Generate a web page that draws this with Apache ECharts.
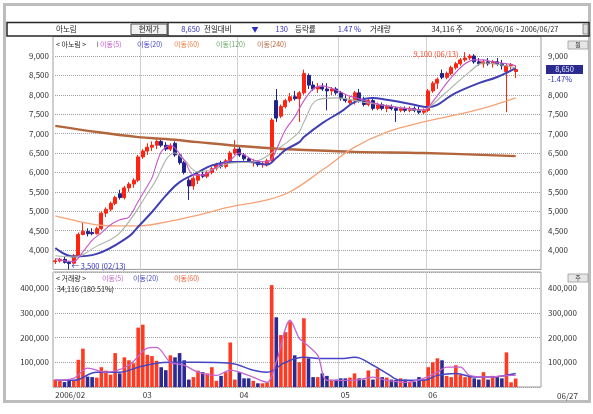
<!DOCTYPE html>
<html><head><meta charset="utf-8">
<script src="https://cdn.jsdelivr.net/npm/echarts/dist/echarts.min.js"></script>
<style>html,body{margin:0;padding:0;background:#fff}#c{width:593px;height:414px}</style>
</head><body><div id="c"></div>
<script>
const FONT = '"Noto Sans CJK KR","Noto Sans",sans-serif';
// ---- categories (trading days) ----
const febDays = [1,2,3,6,7,8,9,10,13,14,15,16,17,20,21,22,23,24,27];
const marDays = [2,3,6,7,8,9,10,13,14,15,16,17,20,21,22,23,24,27,28,29,30];
const aprDays = [3,4,5,6,7,10,11,12,13,14,17,18,19,20,21,24,25,26,27,28,29,30];
const mayDays = [2,3,4,8,9,10,11,12,15,16,17,18,19,22,23,24,25,26,29];
const junDays = [1,2,5,6,7,8,9,12,13,14,15,16,19,20,21,22,23,24,26,27];
const monthLabels = ['2006/02','03','04','05','06'];
const priceTicks = [4000,4500,5000,5500,6000,6500,7000,7500,8000,8500,9000];
const volTicks = [100000,200000,300000,400000];

// ---- OHLC ----
const opens = [3700,3720,3760,3680,3660,3850,4400,4480,4450,4420,4550,4950,5050,5200,5450,5350,5600,5700,5800,6400,
6550,6650,6700,6800,6700,6600,6750,6450,6250,5800,5650,5800,5950,5900,6000,6100,6200,6150,6300,6500,
6600,6450,6350,6250,6280,6200,6220,6300,7850,7450,7700,7850,7950,7900,8050,8500,8250,8150,8200,8150,
8100,8150,8050,7900,7800,7850,8050,7850,7750,7850,7650,7750,7650,7700,7650,7600,7650,7600,7650,7600,
7550,7600,8100,8300,8550,8450,8550,8700,8800,8900,8950,9000,8850,8800,8850,8800,8850,8800,8600,8750,8600];
const highs = [3780,3800,3820,3720,3900,4450,4700,4560,4560,4600,5000,5100,5250,5400,5550,5650,5750,5850,6450,6600,
6750,6800,6850,6850,6780,6750,6800,6500,6300,5850,5900,6000,6050,6050,6150,6250,6300,6350,6550,6830,
6700,6500,6400,6350,6300,6280,6350,7400,8150,7750,7900,8050,8100,8100,8650,8550,8350,8300,8300,8300,
8200,8200,8100,8000,7950,8100,8150,7950,7900,7900,7800,7800,7750,7750,7700,7700,7700,7700,7700,7700,
7650,8150,8350,8450,8650,8600,8750,8850,8950,9100,9050,9050,8950,8900,8950,8900,8950,8900,8800,8820,8750];
const lows = [3640,3680,3650,3500,3640,3840,4380,4350,4380,4400,4520,4850,5000,5150,5300,5300,5500,5600,5750,6350,
6450,6550,6600,6650,6550,6550,6400,6200,5950,5290,5550,5700,5850,5850,5950,6050,6100,6100,6250,6450,
6400,6300,6250,6150,6150,6120,6150,6280,7300,7400,7650,7800,7850,7300,8000,8150,8100,8050,8100,7600,
8000,8000,7850,7800,7750,7750,7800,7700,7700,7600,7600,7600,7550,7600,7300,7550,7550,7550,7550,7500,
7500,7550,8050,8150,8400,8400,8500,8650,8750,8850,8900,8800,8750,8700,8750,8700,8750,8650,7550,8650,8430];
const closes = [3720,3760,3680,3650,3850,4400,4480,4420,4420,4550,4950,5050,5200,5350,5350,5600,5700,5800,6400,6550,
6650,6700,6800,6700,6600,6700,6450,6250,6000,5650,5850,5950,5900,6000,6100,6200,6150,6300,6500,6600,
6450,6350,6300,6280,6200,6220,6300,7350,7400,7700,7850,7950,7900,8050,8550,8250,8150,8200,8150,8100,
8150,8050,7900,7850,7850,8050,7850,7750,7850,7650,7750,7650,7700,7650,7600,7650,7600,7650,7600,7550,
7600,8100,8300,8400,8450,8550,8700,8800,8900,8950,9000,8850,8800,8850,8800,8850,8800,8750,8750,8780,8650];
const volumes = [30000,28000,20000,32000,25000,110000,155000,42000,40000,38000,80000,66000,50000,137000,55000,120000,108000,96000,240000,252000,
130000,125000,106000,80000,68000,128000,120000,137000,108000,30000,40000,66000,60000,55000,80000,25000,45000,60000,180000,30000,
60000,35000,35000,25000,15000,15000,18000,412000,282000,210000,222000,265000,128000,100000,278000,116000,40000,40000,55000,45000,
30000,30000,35000,35000,38000,55000,35000,30000,67000,30000,74000,40000,38000,30000,28000,35000,30000,20000,22000,40000,
30000,80000,100000,116000,108000,45000,40000,88000,50000,40000,45000,35000,30000,60000,30000,45000,40000,35000,140000,18900,34116];

// ---- moving averages: [dayIndex, value] ----
const ma5 = [[0,3780],[2,3720],[4,3700],[6,3950],[8,4250],[10,4440],[12,4650],[14,4780],[16,4850],[18,5250],[20,5650],[21,5860],[23,6530],[25,6700],[28,6320],[30,5930],[32,5930],[35,6140],[38,6320],[40,6500],[43,6320],[46,6270],[47,6350],[48,6580],[50,7100],[52,7430],[54,7850],[56,8150],[58,8230],[60,8170],[62,8070],[64,7960],[66,7900],[68,7820],[70,7760],[72,7720],[74,7680],[76,7650],[78,7630],[80,7610],[81,7680],[83,7980],[85,8300],[87,8580],[89,8800],[91,8900],[93,8900],[95,8850],[97,8820],[99,8780],[100,8750]];
const ma120 = [[0,3850],[4,3820],[9,4100],[14,4440],[21,5630],[26,6500],[28,6320],[31,6010],[35,6110],[38,6240],[43,6270],[48,6580],[51,6840],[53,7050],[54,7300],[57,7870],[61,7920],[67,7810],[74,7690],[80,7600],[81,7660],[86,8180],[90,8590],[93,8820],[100,8690]];
const ma20 = [[0,4050],[4,3830],[9,3900],[16,4350],[18,4600],[21,4980],[24,5400],[27,5750],[31,6000],[34,6180],[38,6270],[42,6270],[46,6200],[48,6370],[50,6580],[53,6780],[54,6910],[58,7270],[62,7560],[65,7810],[69,7920],[72,7870],[76,7790],[80,7690],[81,7680],[87,8050],[92,8300],[96,8460],[100,8690]];
const ma60 = [[0,4880],[5,4740],[9,4650],[15,4620],[18,4620],[24,4720],[31,4900],[38,5110],[46,5290],[51,5500],[58,6060],[65,6650],[72,7040],[80,7300],[87,7480],[94,7690],[100,7920]];
const ma240 = [[0,7200],[9,7040],[18,6910],[24,6860],[31,6780],[38,6700],[46,6630],[52,6590],[65,6530],[80,6500],[100,6420]];
const volMa5 = [[0,27000],[4,35000],[7,76000],[11,60000],[16,88000],[20,157000],[22,160000],[25,100000],[28,88000],[31,60000],[35,47000],[38,68000],[42,47000],[46,19000],[48,100000],[51,270000],[53,197000],[54,181000],[57,128000],[59,27000],[65,27000],[69,40000],[72,27000],[76,19000],[80,35000],[83,60000],[85,80000],[88,80000],[90,47000],[94,40000],[99,47000],[100,47000]];
const volMa20 = [[0,27000],[4,27000],[9,60000],[14,60000],[18,80000],[22,96000],[25,100000],[31,100000],[38,96000],[43,68000],[46,60000],[50,100000],[54,120000],[58,115000],[62,115000],[65,120000],[69,88000],[72,55000],[75,27000],[80,27000],[83,47000],[87,55000],[91,40000],[94,40000],[100,55000]];

// ---- build ----
const monthDays = [['02',febDays],['03',marDays],['04',aprDays],['05',mayDays],['06',junDays]];
const cats = [];
const monthStartIdx = [];
monthDays.forEach(([m, days]) => { monthStartIdx.push(cats.length); days.forEach(d => cats.push(m + '/' + String(d).padStart(2,'0'))); });
for (let k = 0; k < 5; k++) cats.push('');
const UP = '#ff2412', DOWN = '#22228c';
const VUP = '#ff3a22', VDOWN = '#2a2a92';
const candleData = opens.map((o, i) => [o, closes[i], lows[i], highs[i]]);
const volData = volumes.map((v, i) => ({ value: v, itemStyle: { color: closes[i] >= opens[i] ? VUP : VDOWN } }));
const fmt = v => v.toLocaleString('en-US');

const GL = 53, GR = 541, W = GR - GL;
const lab = { fontFamily: FONT, fontSize: 8, color: '#333' };
const line = (name, data, x, y, color, width, smooth) => ({
  name, type: 'line', data, xAxisIndex: x, yAxisIndex: y, symbol: 'none', smooth: smooth,
  lineStyle: { color, width }, silent: true, z: 3
});
const catAxis = (gi, showLabel) => ({
  type: 'category', gridIndex: gi, data: cats, boundaryGap: true,
  axisLine: { show: false }, axisTick: { show: false },
  axisLabel: showLabel ? { ...lab, show: true, interval: (i) => monthStartIdx.includes(i),
    formatter: (v, i) => { const k = monthStartIdx.indexOf(i); return k >= 0 ? monthLabels[k] : ''; },
    align: 'left', margin: 4 } : { show: false },
  splitLine: { show: true, interval: (i) => monthStartIdx.includes(i), lineStyle: { color: '#d0d0d0', width: 1 } }
});
const valAxis = (gi, pos, min, max, interval, ticks, split, margin) => ({
  type: 'value', gridIndex: gi, position: pos, min, max, interval, scale: false,
  axisLine: { show: false }, axisTick: { show: false },
  axisLabel: { ...lab, margin, formatter: v => ticks.includes(v) ? fmt(v) : '' },
  splitLine: { show: split, lineStyle: { type: 'dotted', color: '#a0a0a0', width: 1 } }
});

const chart = echarts.init(document.getElementById('c'), null, { renderer: 'canvas', width: 593, height: 414 });
const option = {
  animation: false,
  backgroundColor: '#ffffff',
  textStyle: { fontFamily: FONT },
  grid: [
    { left: GL, top: 36.6, width: W, height: 232.8, show: true, borderColor: '#9c9c9c', borderWidth: 1, containLabel: false },
    { left: GL, top: 272, width: W, height: 115, show: true, borderColor: '#9c9c9c', borderWidth: 1, containLabel: false }
  ],
  xAxis: [catAxis(0, false), catAxis(1, true)],
  yAxis: [
    valAxis(0, 'left', 3500, 9500, 500, priceTicks, true, 4),
    valAxis(0, 'right', 3500, 9500, 500, priceTicks.filter(v => v !== 8500), false, 7),
    valAxis(1, 'left', 0, 465000, 100000, volTicks, true, 4),
    valAxis(1, 'right', 0, 465000, 100000, volTicks, false, 7)
  ],
  series: [
    { name: '가격', type: 'candlestick', data: candleData, xAxisIndex: 0, yAxisIndex: 0, barWidth: 3.5, z: 2,
      itemStyle: { color: UP, color0: DOWN, borderColor: UP, borderColor0: DOWN, borderWidth: 1 },
      markPoint: { symbol: 'circle', symbolSize: 1, itemStyle: { color: 'rgba(0,0,0,0)' }, silent: true,
        data: [
          { coord: [3, 3500], label: { show: true, position: 'right', distance: 2, offset: [0, -3], formatter: '← 3,500 (02/13)', color: '#2c2cc8', fontSize: 7.5, fontFamily: FONT } },
          { coord: [89, 9100], label: { show: true, position: 'left', distance: 6, offset: [0, 2], formatter: '9,100 (06/13)', color: '#ff4a2a', fontSize: 7.5, fontFamily: FONT } }
        ] } },
    line('이동(240)', ma240, 0, 0, '#b3663e', 2.4, 0.4),
    line('이동(60)', ma60, 0, 0, '#f6a277', 1.3, 0.4),
    line('이동(20)', ma20, 0, 0, '#4040b4', 2.0, 0.4),
    line('이동(120)', ma120, 0, 0, '#a9b5a6', 1.1, 0.4),
    line('이동(5)', ma5, 0, 0, '#c455cc', 1.1, 0.3),
    { name: '거래량', type: 'bar', data: volData, xAxisIndex: 1, yAxisIndex: 2, barWidth: 3.6, z: 2 },
    line('v이동(20)', volMa20, 1, 2, '#4444c4', 1.5, 0.4),
    line('v이동(5)', volMa5, 1, 2, '#c464d2', 1.3, 0.3)
  ]
};
chart.setOption(option);

// ---- annotations ----
const T = (x, y, text, fill, size, align) => ({ type: 'text', x, y, silent: true, z: 100,
  style: { text, fill: fill || '#222', fontSize: size || 7.5, fontFamily: FONT, textAlign: align || 'left', textVerticalAlign: 'middle' } });
const priceY = chart.convertToPixel({ yAxisIndex: 1 }, closes[closes.length - 1]);
const hy = 29.5;
const BLUE = '#2c2cc8';
const graphics = [
  { type: 'rect', shape: { x: 4.5, y: 4.5, width: 585, height: 397 }, style: { fill: 'none', stroke: '#bdbdbd', lineWidth: 3 }, silent: true, z: 90 },
  { type: 'rect', shape: { x: 7, y: 22.5, width: 582, height: 13.5 }, style: { fill: '#fff', stroke: '#262626', lineWidth: 1.5 }, silent: true, z: 90 },
  { type: 'rect', shape: { x: 131, y: 24, width: 36, height: 10.5 }, style: { fill: '#f2f2f2', stroke: '#555', lineWidth: 1 }, silent: true, z: 91 },
  { type: 'line', shape: { x1: 168, y1: 22.5, x2: 168, y2: 36 }, style: { stroke: '#262626', lineWidth: 1.2 }, silent: true, z: 91 },
  { type: 'rect', shape: { x: 583, y: 24, width: 5, height: 10 }, style: { fill: '#dcdcdc', stroke: '#777', lineWidth: 0.8 }, silent: true, z: 91 },
  T(56, hy, '아노림'),
  T(149, hy, '현재가', '#222', 7.5, 'center'),
  T(200, hy, '8,650', BLUE, 7.5, 'right'),
  T(204, hy, '전일대비'),
  T(255, hy, '▼', BLUE, 7, 'center'),
  T(288, hy, '130', BLUE, 7.5, 'right'),
  T(295, hy, '등락률'),
  T(361, hy, '1.47 %', BLUE, 7.5, 'right'),
  T(370, hy, '거래량'),
  T(463, hy, '34,116 주', '#222', 7.5, 'right'),
  T(476, hy, '2006/06/16 ~ 2006/06/27', '#222', 7.2),
  // price legend
  T(56, 44, '< 아노림 >', '#222', 7),
  T(95, 44, 'ㅣ', '#222', 6),
  T(100, 44, '이동(5)', '#c455cc', 7),
  T(137, 44, '이동(20)', '#4040c8', 7),
  T(174, 44, '이동(60)', '#f07a40', 7),
  T(216, 44, '이동(120)', '#6aa86a', 7),
  T(257, 44, '이동(240)', '#b3663e', 7),
  // volume legend
  T(56, 278, '< 거래량 >', '#222', 7),
  T(102, 278, '이동(5)', '#c464d2', 7),
  T(133, 278, '이동(20)', '#4444c4', 7),
  T(174, 278, '이동(60)', '#f05a30', 7),
  T(57, 289, '34,116 (180.51%)', '#222', 7.2),
  // unit boxes
  { type: 'rect', shape: { x: 568, y: 41, width: 20, height: 8 }, style: { fill: '#e6e6e6', stroke: '#999', lineWidth: 0.8 }, silent: true, z: 95 },
  T(578, 45, '원', '#333', 6, 'center'),
  { type: 'rect', shape: { x: 568, y: 274, width: 20, height: 8 }, style: { fill: '#e6e6e6', stroke: '#999', lineWidth: 0.8 }, silent: true, z: 95 },
  T(578, 278, '주', '#333', 6, 'center'),
  // current price marker
  { type: 'rect', shape: { x: 546, y: priceY - 4.5, width: 37, height: 9 }, style: { fill: '#2b2b8e' }, silent: true, z: 95 },
  T(564.5, priceY, fmt(closes[closes.length - 1]), '#e8e8ff', 7.5, 'center'),
  T(548, priceY + 10, '-1.47%', BLUE, 7.5),
  T(557, 395.5, '06/27', '#333', 8)
];
chart.setOption({ graphic: graphics });
</script></body></html>
